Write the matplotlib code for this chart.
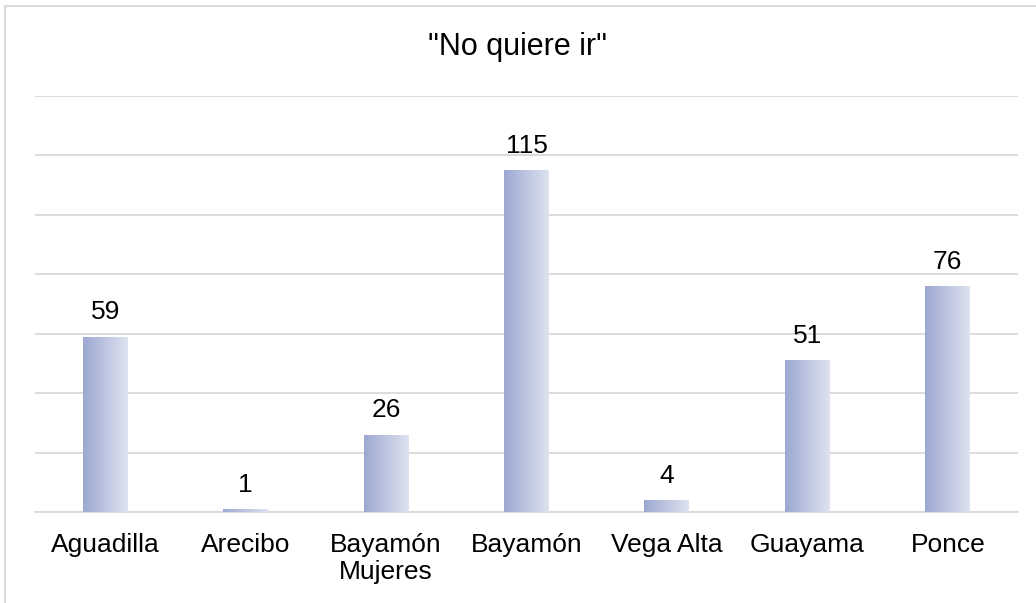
import matplotlib.pyplot as plt
import numpy as np
from matplotlib.colors import LinearSegmentedColormap
from matplotlib.patches import Rectangle

plt.rcParams['font.family'] = ['Liberation Sans', 'DejaVu Sans']

categorias = ['Aguadilla', 'Arecibo', 'Bayamón\nMujeres', 'Bayamón', 'Vega Alta', 'Guayama', 'Ponce']
valores = [59, 1, 26, 115, 4, 51, 76]

fig = plt.figure(figsize=(10.36, 6.03), dpi=100)
ax = fig.add_axes([0.0338, 0.151, 0.9488, 0.690])

x = np.arange(len(categorias))
ancho = 0.32
barras = ax.bar(x, valores, width=ancho, color='none', edgecolor='none', zorder=3)

# degradado horizontal en cada barra
cmap = LinearSegmentedColormap.from_list('grad', ['#9ca8d2', '#dfe3ef'])
grad = np.linspace(0, 1, 256).reshape(1, -1)
for b in barras:
    x0, y0 = b.get_x(), b.get_y()
    w, h = b.get_width(), b.get_height()
    im = ax.imshow(grad, cmap=cmap, aspect='auto', extent=[x0, x0 + w, y0, y0 + h], zorder=3)
    im.set_clip_path(b)

for xi, v in zip(x, valores):
    ax.annotate(str(v), (xi, v), xytext=(0, 12.5), textcoords='offset points',
                ha='center', va='baseline', fontsize=19, color='#000000')

ax.set_xlim(-0.5, len(categorias) - 0.5)
ax.set_ylim(0, 140)
ax.set_yticks(np.arange(0, 141, 20))
ax.yaxis.grid(True, color='#d9d9d9', linewidth=1.3)
ax.set_axisbelow(True)
ax.tick_params(axis='y', left=False, labelleft=False)
ax.tick_params(axis='x', length=0, pad=15, labelsize=19)
ax.set_xticks(x)
ax.set_xticklabels(categorias, linespacing=1.17)
for s in ['top', 'right', 'left']:
    ax.spines[s].set_visible(False)
ax.spines['bottom'].set_color('#d9d9d9')
ax.spines['bottom'].set_linewidth(1.3)

fig.text(0.5, 0.922, '"No quiere ir"', ha='center', va='center', fontsize=22)

# borde del área del gráfico
fig.patches.append(Rectangle((0.0053, -0.1), 1.2, 1.09, transform=fig.transFigure,
                             fill=False, edgecolor='#d9d9d9', linewidth=1.5))

fig.savefig('out.png', dpi=100)
